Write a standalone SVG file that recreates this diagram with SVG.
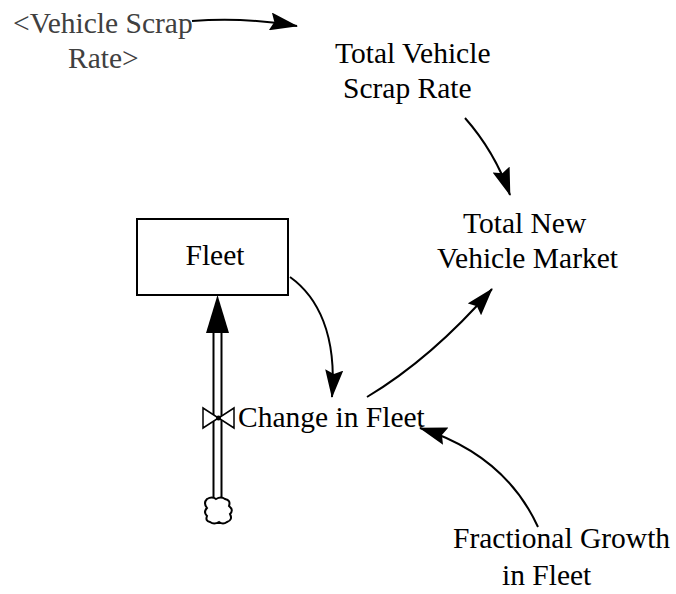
<svg xmlns="http://www.w3.org/2000/svg" width="676" height="594" viewBox="0 0 676 594">
<style>
  .t { font-family: 'Liberation Serif', 'Tinos', 'Times New Roman', 'DejaVu Serif', serif; font-size: 29.5px; fill: #000; }
  .shadow { fill: #404040; }
  .link { fill: none; stroke: #000; stroke-width: 2; marker-end: url(#ah); }
  .pipe { stroke: #000; stroke-width: 2; fill: none; }
</style>
<defs>
  <marker id="ah" markerUnits="userSpaceOnUse" markerWidth="28" markerHeight="18" viewBox="0 0 28 18" refX="27" refY="9" orient="auto">
    <path d="M0,0 L28,9 L0,18 L4,9 z" fill="#000"/>
  </marker>
</defs>
<rect width="676" height="594" fill="#fff"/>

<g id="connectors">
  <path class="link" d="M192,21 Q245,17 297,26"/>
  <path class="link" d="M465,118 Q495,152 510,195"/>
  <path class="link" d="M290,277 C318,297 337,335 332,397"/>
  <path class="link" d="M367,397 Q432,358 492,289"/>
  <path class="link" d="M538,527 Q505,455 420,428"/>
</g>

<g id="flow-change-in-fleet">
  <line class="pipe" x1="213.5" y1="330" x2="213.5" y2="498"/>
  <line class="pipe" x1="221.5" y1="330" x2="221.5" y2="498"/>
  <polygon points="217.5,295 206,333 229,333" fill="#000"/>
  <polygon points="203,408 203,428 218.5,418" fill="#fff" stroke="#000" stroke-width="1.5"/>
  <polygon points="234,408 234,428 218.5,418" fill="#fff" stroke="#000" stroke-width="1.5"/>
  <circle cx="218.5" cy="418" r="2.5" fill="#000"/>
  <text class="t" x="238" y="427">Change in Fleet</text>
</g>

<g id="cloud">
  <path d="M207,499 q5,-3 9,0 q5,-3 9,0 q6,1 4,7 q5,4 1,8 q3,6 -3,8 q-4,3 -8,0 q-5,3 -9,0 q-5,-1 -3,-6 q-4,-4 0,-8 q-4,-5 0,-9 z" fill="#fff" stroke="#000" stroke-width="2"/>
</g>

<g id="fleet">
  <rect x="137" y="219" width="151" height="76" fill="#fff" stroke="#000" stroke-width="2"/>
  <text class="t" x="215" y="265" text-anchor="middle">Fleet</text>
</g>

<g id="vehicle-scrap-rate-shadow">
  <text class="t shadow" x="13" y="33">&lt;Vehicle Scrap</text>
  <text class="t shadow" x="68" y="68">Rate&gt;</text>
</g>

<g id="total-vehicle-scrap-rate">
  <text class="t" x="335" y="63">Total Vehicle</text>
  <text class="t" x="343" y="98">Scrap Rate</text>
</g>

<g id="total-new-vehicle-market">
  <text class="t" x="463" y="233">Total New</text>
  <text class="t" x="437" y="268">Vehicle Market</text>
</g>

<g id="fractional-growth-in-fleet">
  <text class="t" x="453" y="548">Fractional Growth</text>
  <text class="t" x="502" y="585">in Fleet</text>
</g>
</svg>
